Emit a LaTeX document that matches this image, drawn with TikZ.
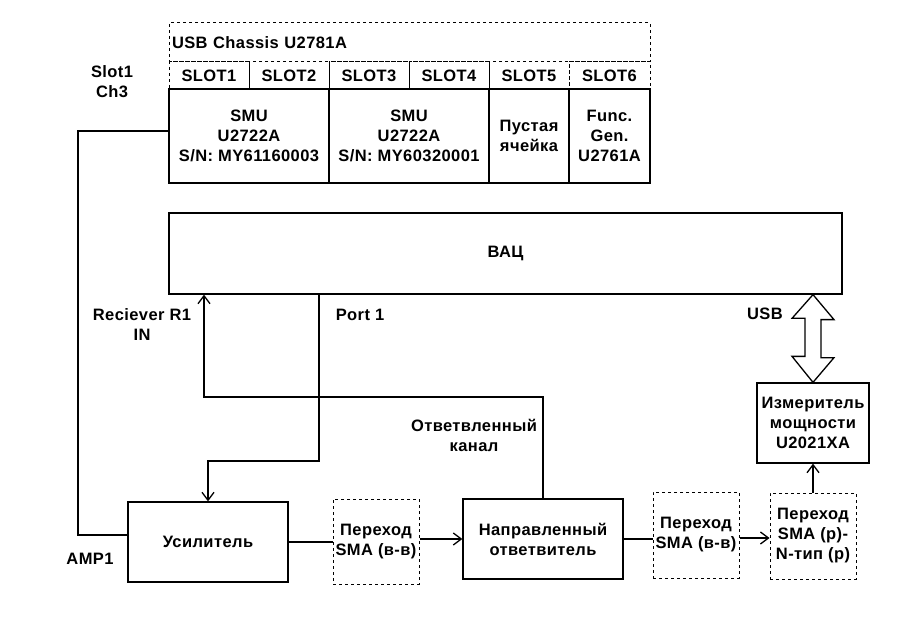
\documentclass[tikz,border=0pt]{standalone}
\usepackage{fontspec}
\setmainfont{Liberation Sans}[LetterSpace=2.5]
\usetikzlibrary{arrows.meta}
\tikzset{
  base/.style={font=\bfseries\fontsize{16.5}{20}\selectfont, align=center, text=black},
  sbox/.style={base, draw=black, line width=1.3pt, inner sep=0pt},
  dbox/.style={base, draw=black, line width=1pt, dash pattern=on 3pt off 3pt, inner sep=0pt},
  lbl/.style={base, inner sep=0pt},
  wire/.style={line width=1.3pt, draw=black},
  arr/.style={wire, -{Straight Barb[length=8pt,width=12pt,line width=1.3pt]}},
}
\begin{document}
\begin{tikzpicture}[x=1pt,y=-1pt]
\fill[white] (0,0) rectangle (907,617);
\useasboundingbox (0,0) rectangle (907,617);

% chassis
\node[dbox, minimum width=481, minimum height=39, text width=475, align=left, inner xsep=3pt] (chassis) at (409.5,42.5) {USB Chassis U2781A};
\node[dbox, minimum width=80, minimum height=27] (s1) at (209,75.5) {SLOT1};
\node[dbox, minimum width=80, minimum height=27] (s2) at (289,75.5) {SLOT2};
\node[dbox, minimum width=80, minimum height=27] (s3) at (369,75.5) {SLOT3};
\node[dbox, minimum width=80, minimum height=27] (s4) at (449,75.5) {SLOT4};
\node[dbox, minimum width=80, minimum height=27] (s5) at (529,75.5) {SLOT5};
\node[dbox, minimum width=81, minimum height=27] (s6) at (609.5,75.5) {SLOT6};

\node[sbox, minimum width=160, minimum height=94] (smu1) at (249,136) {SMU\\U2722A\\S/N: MY61160003};
\node[sbox, minimum width=160, minimum height=94] (smu2) at (409,136) {SMU\\U2722A\\S/N: MY60320001};
\node[sbox, minimum width=80, minimum height=94] (empty) at (529,136) {Пустая\\ячейка};
\node[sbox, minimum width=81, minimum height=94] (func) at (609.5,136) {Func.\\Gen.\\U2761A};

% VNA
\node[sbox, minimum width=673, minimum height=81] (vac) at (505.5,253.5) {ВАЦ};

% lower chain
\node[sbox, minimum width=160, minimum height=80] (amp) at (208,542) {Усилитель};
\node[dbox, minimum width=86, minimum height=85] (sma1) at (376,541.5) {Переход\\SMA (в-в)};
\node[sbox, minimum width=160, minimum height=80] (coupler) at (543,539) {Направленный\\ответвитель};
\node[dbox, minimum width=86, minimum height=86] (sma2) at (696,535) {Переход\\SMA (в-в)};
\node[dbox, minimum width=86, minimum height=86] (sma3) at (813,536) {Переход\\SMA (р)-\\N-тип (р)};
\node[sbox, minimum width=112, minimum height=80] (meter) at (813,423) {Измеритель\\мощности\\U2021XA};

% labels
\node[lbl] (lslot) at (112,82) {Slot1\\Ch3};
\node[lbl] (lrec) at (142,325) {Reciever R1\\IN};
\node[lbl] (lport) at (360,315) {Port 1};
\node[lbl] (lbranch) at (474,435) {Ответвленный\\канал};
\node[lbl] (lamp) at (90,559) {AMP1};
\node[lbl] (lusb) at (765,314) {USB};

% connectors
\coordinate (c1) at (78,131);
\coordinate (c2) at (78,535);
\draw[wire] (smu1.west |- c1) -- (c1) -- (c2) -- (amp.west |- c2);

\coordinate (c3) at (204,397);
\draw[arr] (coupler.north) |- (c3) -- (c3 |- vac.south);

\coordinate (c4) at (319,461);
\draw[arr] (c4 |- vac.south) -- (c4) -| (amp.north);

\draw[wire] (amp.east) -- (sma1.west |- amp.east);
\draw[arr] (sma1.east |- coupler.west) -- (coupler.west);
\draw[wire] (coupler.east) -- (sma2.west |- coupler.east);
\coordinate (c5) at (0,538);
\draw[arr] (sma2.east |- c5) -- (sma3.west |- c5);
\draw[arr] (sma3.north) -- (meter.south);

% USB double arrow
\coordinate (ut) at (vac.south -| meter.north);
\draw[wire, line join=miter] (ut) -- ++(21,25) -- ++(-13,0) -- ++(0,38) -- ++(13,0) -- (meter.north)
  -- ++(-21,-26) -- ++(13,0) -- ++(0,-38) -- ++(-13,0) -- cycle;
\end{tikzpicture}
\end{document}
